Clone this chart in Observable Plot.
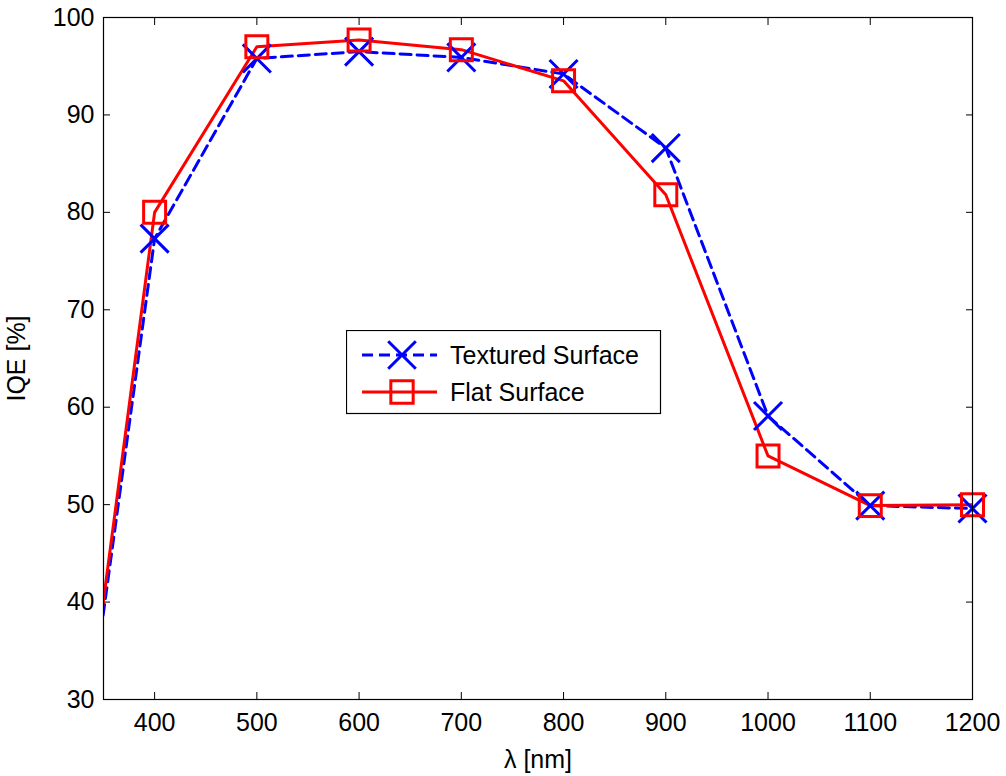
<!DOCTYPE html>
<html><head><meta charset="utf-8">
<script src="https://cdn.jsdelivr.net/npm/d3@7"></script>
<script src="https://cdn.jsdelivr.net/npm/@observablehq/plot@0.6"></script>
<style>
body{margin:0;background:#fff;font-family:"Liberation Sans",Arial,sans-serif;}
#wrap{position:relative;width:1006px;height:776px;}
#legend{position:absolute;left:346px;top:330px;}
</style>
</head><body>
<div id="wrap"><div id="chart"></div><div id="legend"></div></div>
<script>
const wavelengths = [300, 400, 500, 600, 700, 800, 900, 1000, 1100, 1200];
const textured = [0.6, 77.3, 95.8, 96.5, 95.9, 94.2, 86.6, 59.1, 49.9, 49.6];
const flat = [0.4, 80.0, 97.0, 97.7, 96.7, 93.5, 81.8, 55.0, 49.9, 50.0];
const seriesNames = ["Textured Surface", "Flat Surface"];
const xTicks = [400, 500, 600, 700, 800, 900, 1000, 1100, 1200];
const yTicks = [30, 40, 50, 60, 70, 80, 90, 100];

const tex = wavelengths.map((w, i) => ({w, v: textured[i]}));
const fl = wavelengths.map((w, i) => ({w, v: flat[i]}));
const vis = d => d.w >= 350;

const font = {fontSize: 25, fontFamily: "Liberation Sans, Arial, sans-serif"};

const chart = Plot.plot({
  width: 1006, height: 776,
  marginLeft: 103, marginRight: 34, marginTop: 17, marginBottom: 77,
  style: {fontSize: "25px", fontFamily: "Liberation Sans, Arial, sans-serif", color: "black", background: "white"},
  x: {domain: [350, 1200]},
  y: {domain: [30, 100]},
  marks: [
    Plot.axisX({anchor: "bottom", ticks: xTicks, tickSize: -7, tickPadding: 21, tickFormat: d3.format("d"), label: "λ [nm]", labelAnchor: "center", labelOffset: 68, labelArrow: "none", ...font}),
    Plot.axisX({anchor: "top", ticks: xTicks, tickSize: -7, tickFormat: () => "", label: null}),
    Plot.axisY({anchor: "left", ticks: yTicks, tickSize: -7, tickPadding: 16, tickFormat: d3.format("d"), label: "IQE [%]", labelAnchor: "center", labelOffset: 96, labelArrow: "none", ...font}),
    Plot.axisY({anchor: "right", ticks: yTicks, tickSize: -7, tickFormat: () => "", label: null}),
    Plot.line(tex, {x: "w", y: "v", stroke: "#0000ff", strokeWidth: 3, strokeDasharray: "11,6", clip: true}),
    Plot.line(fl, {x: "w", y: "v", stroke: "#ff0000", strokeWidth: 3, clip: true}),
    Plot.dot(tex.filter(vis), {x: "w", y: "v", symbol: "times", r: 12.8, stroke: "#0000ff", strokeWidth: 3, fill: "none"}),
    Plot.dot(fl.filter(vis), {x: "w", y: "v", symbol: "square", r: 12.4, stroke: "#ff0000", strokeWidth: 3, fill: "none"}),
    Plot.frame({stroke: "black", strokeWidth: 1.2})
  ]
});
document.getElementById("chart").appendChild(chart);

// Legend
const lg = d3.select("#legend").append("svg").attr("width", 316).attr("height", 85)
  .style("font-family", "Liberation Sans, Arial, sans-serif");
lg.append("rect").attr("x", 0.5).attr("y", 0.5).attr("width", 314).attr("height", 83)
  .attr("fill", "white").attr("stroke", "black").attr("stroke-width", 1.2);
const rows = [
  {name: seriesNames[0], color: "#0000ff", dash: "11,6", sym: d3.symbolTimes},
  {name: seriesNames[1], color: "#ff0000", dash: null, sym: d3.symbolSquare}
];
rows.forEach((r, i) => {
  const cy = 25 + i * 37;
  lg.append("line").attr("x1", 16).attr("x2", 91).attr("y1", cy).attr("y2", cy)
    .attr("stroke", r.color).attr("stroke-width", 3).attr("stroke-dasharray", r.dash);
  lg.append("path").attr("d", d3.symbol(r.sym, 12.6 * 12.6 * Math.PI)())
    .attr("transform", `translate(56,${cy})`)
    .attr("fill", "none").attr("stroke", r.color).attr("stroke-width", 3);
  lg.append("text").attr("x", 104).attr("y", cy).attr("dy", "0.35em")
    .attr("font-size", 25).attr("fill", "black").text(r.name);
});
</script>
</body></html>
